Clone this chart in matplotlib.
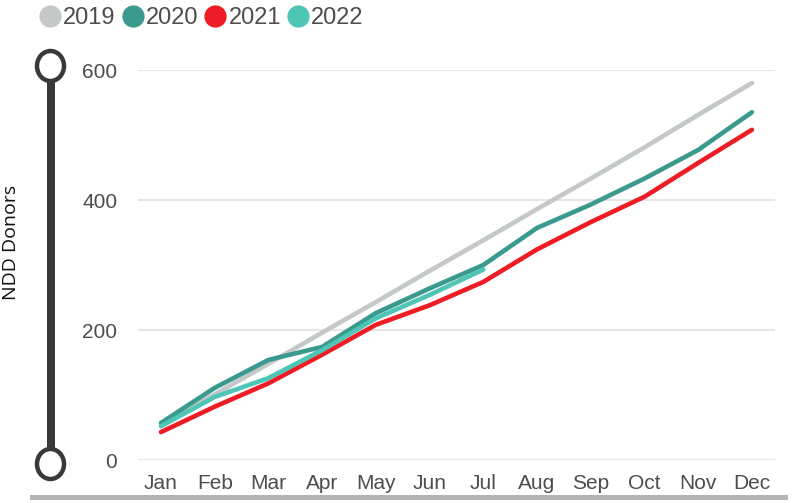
import matplotlib
matplotlib.use("Agg")
import matplotlib.pyplot as plt
from matplotlib.lines import Line2D
from matplotlib.patches import Ellipse, Rectangle

months = ["Jan", "Feb", "Mar", "Apr", "May", "Jun", "Jul", "Aug", "Sep", "Oct", "Nov", "Dec"]
years = ["2019", "2020", "2021", "2022"]
v2019 = [55, 101, 148, 196, 243, 291, 338, 386, 433, 481, 531, 580]
v2020 = [57, 111, 154, 174, 226, 264, 300, 357, 393, 433, 477, 535]
v2021 = [43, 82, 118, 162, 208, 238, 274, 324, 366, 405, 457, 508]
v2022 = [52, 97, 126, 169, 218, 254, 293]
y_ticks = [0, 200, 400, 600]
colors = ["#c4c8c8", "#3a9a8e", "#ee1c25", "#4ec5b5"]
series = [v2019, v2020, v2021, v2022]

W, H = 795, 503
fig = plt.figure(figsize=(W / 100, H / 100), dpi=100)
fig.patch.set_facecolor("white")

# overlay for decorations (pixel coordinates)
deco = fig.add_axes([0, 0, 1, 1], zorder=0)
deco.set_xlim(0, W)
deco.set_ylim(H, 0)
deco.axis("off")
dark = "#3b3838"
deco.add_patch(Rectangle((46.5, 80), 8.5, 370, facecolor=dark, edgecolor="none"))
for cy in (66, 464):
    deco.add_patch(Ellipse((50.5, cy), 27, 30, facecolor="white", edgecolor=dark, linewidth=3.2))
deco.add_patch(Rectangle((30, 494.5), 758, 5, facecolor="#b4b4b4", edgecolor="none"))

ax = fig.add_axes([138 / W, 1 - 460 / H, (775 - 138) / W, (460 - 70) / H], zorder=1)
ax.patch.set_alpha(0)
x = list(range(len(months)))
for vals, c in zip(series, colors):
    ax.plot(x[:len(vals)], vals, color=c, lw=3.3, solid_capstyle="round",
            solid_joinstyle="round", clip_on=False)

ax.set_xlim(-0.428, 11.43)
ax.set_ylim(0, 600)
ax.set_yticks(y_ticks)
ax.set_xticks(x)
ax.set_xticklabels(months)
for s in ax.spines.values():
    s.set_visible(False)
ax.grid(axis="y", color="#e6e6e6", lw=1.5)
ax.set_axisbelow(True)
ax.tick_params(axis="both", length=0, labelsize=15, labelcolor="#4d4d4d")
ax.tick_params(axis="x", pad=10)
ax.tick_params(axis="y", pad=15)
for lab in ax.get_xticklabels() + ax.get_yticklabels():
    lab.set_family("Liberation Sans")

fig.text(11 / W, 1 - 242 / H, "NDD Donors", rotation=90, ha="center", va="center",
         fontsize=14, family="Open Sans", color="#111111")

handles = [Line2D([], [], linestyle="none", marker="o", markersize=15,
                  markerfacecolor=c, markeredgecolor=c) for c in colors]
leg = fig.legend(handles, years, loc="center left", ncol=4,
                 bbox_to_anchor=(38 / W, 1 - 18 / H), bbox_transform=fig.transFigure,
                 frameon=False, handlelength=1.0, handletextpad=0.06,
                 columnspacing=0.22, borderpad=0, borderaxespad=0,
                 prop={"family": "Liberation Sans", "size": 17})
for t in leg.get_texts():
    t.set_color("#4d4d4d")

fig.savefig("out.png", dpi=100, facecolor="white")
